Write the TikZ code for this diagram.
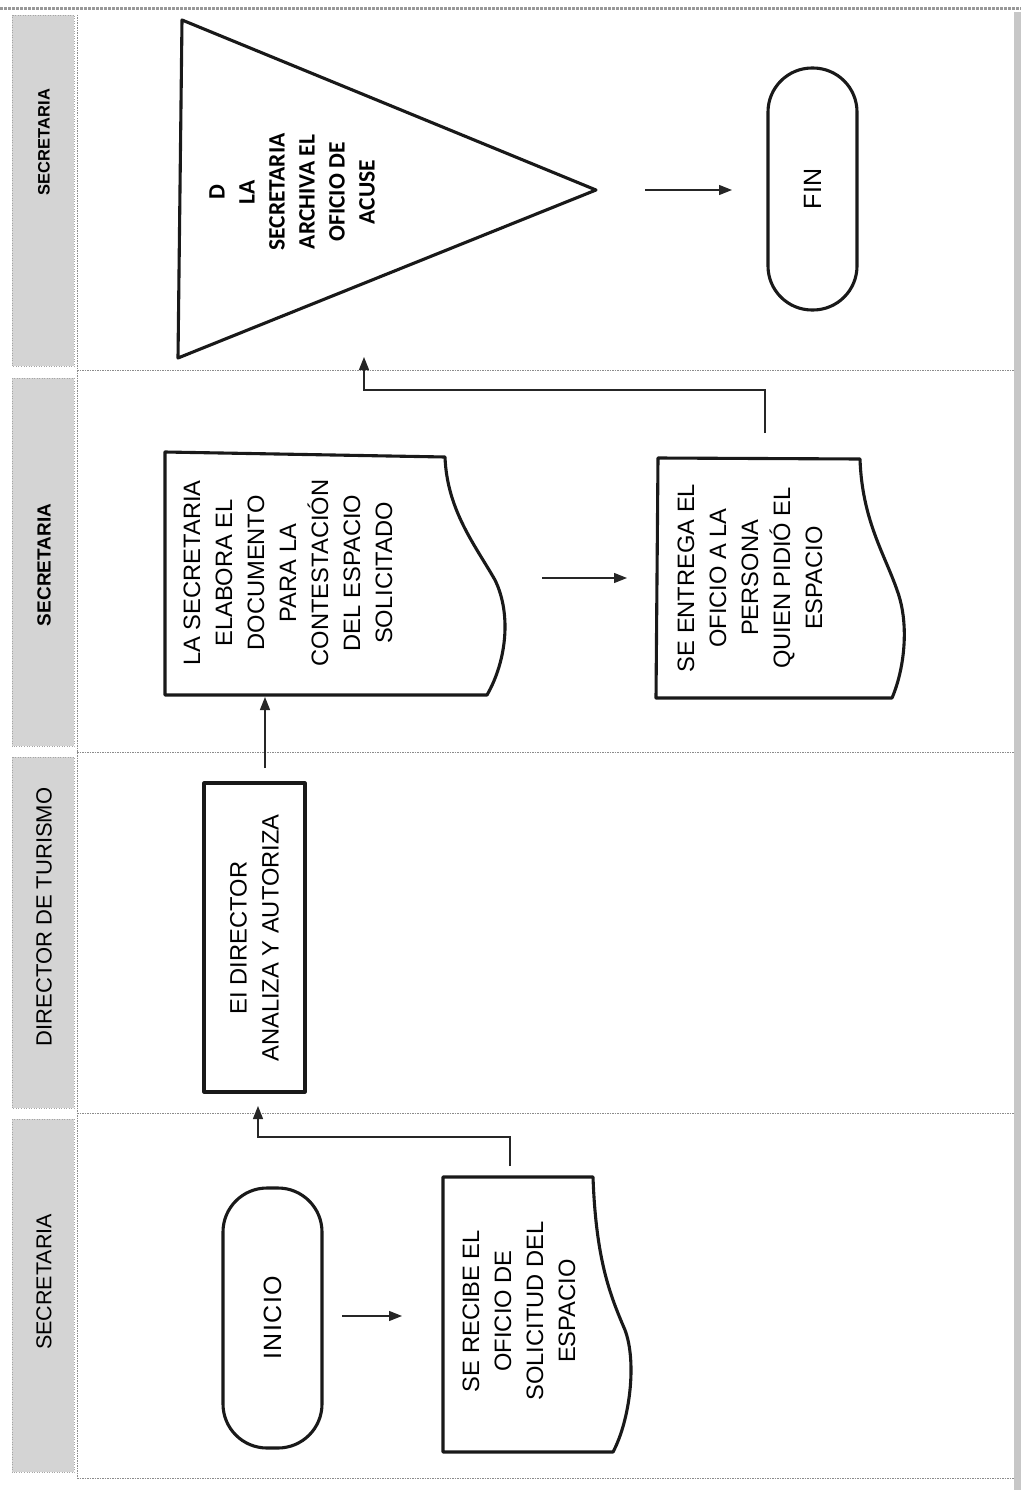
\documentclass[tikz,border=0pt]{standalone}
\usepackage{fontspec}
\setmainfont{Liberation Sans}
\newfontfamily\calibfont{Carlito}
\usetikzlibrary{arrows.meta}
\begin{document}
\begin{tikzpicture}[x=1pt,y=-1pt,
  shp/.style={draw=black!90,line width=3.1pt,line join=round},
  arr/.style={draw=black!85,line width=1.3pt,-{Triangle[length=13pt,width=10pt]}},
  lane/.style={draw=black!45,line width=0.8pt,dash pattern=on 1.5pt off 1pt},
  hdr/.style={fill=black!17,draw=black!35,line width=0.5pt,dotted},
  txt/.style={rotate=90,align=center,inner sep=0pt,font=\fontsize{23.7}{32}\selectfont},
  tri/.style={rotate=90,align=center,inner sep=0pt,font=\calibfont\bfseries\fontsize{23.5}{30}\selectfont},
  hlab/.style={rotate=90,inner sep=0pt},
  term/.style={shp,rotate=90,rounded corners=44pt,inner sep=0pt,font=\fontsize{25}{28}\selectfont}
]
\useasboundingbox (0,0) rectangle (1021,1501);
\fill[white] (0,0) rectangle (1021,1501);

% frame and lanes
\draw[black!40,line width=3pt,dash pattern=on 3pt off 1pt] (0,9) -- (1021,9);
\fill[black!22] (1014,12) rectangle (1021,1490);
\draw[lane] (77,15) -- (77,1478);
\draw[lane] (77,370) -- (1014,370);
\draw[lane] (77,752) -- (1014,752);
\draw[lane] (77,1113) -- (1014,1113);
\draw[lane] (77,1478) -- (1014,1478);

% header cells
\path[hdr] (12,15) rectangle (74,366);
\path[hdr] (12,378) rectangle (74,746);
\path[hdr] (12,757) rectangle (74,1108);
\path[hdr] (12,1119) rectangle (74,1472);
\node[hlab,font=\bfseries\fontsize{16.5}{20}\selectfont] (h1) at (44,142) {SECRETARIA};
\node[hlab,font=\bfseries\fontsize{19}{22}\selectfont] (h2) at (44,565) {SECRETARIA};
\node[hlab,font=\fontsize{22}{26}\selectfont] (h3) at (44,917) {DIRECTOR DE TURISMO};
\node[hlab,font=\fontsize{21.5}{26}\selectfont] (h4) at (44,1282) {SECRETARIA};

% INICIO
\node[term,minimum width=260pt,minimum height=99pt] (inicio) at (272.5,1318) {\addfontfeatures{LetterSpace=6}INICIO};

% document: SE RECIBE
\draw[shp] (443,1177) -- (593,1177) .. controls (596,1260) and (610,1295) .. (625,1330)
  .. controls (637,1362) and (630,1420) .. (613,1452) -- (443,1452) -- cycle;
\node[txt] (recibe) at (519,1311) {SE RECIBE EL\\OFICIO DE\\SOLICITUD DEL\\ESPACIO};

% rectangle: director
\node[shp,rotate=90,minimum width=309pt,minimum height=101pt,inner sep=0pt] (director) at (254.5,937.5) {};
\node[txt] (dirtxt) at (254.5,938) {EI DIRECTOR\\ANALIZA Y AUTORIZA};

% document: elabora
\draw[shp] (165,452) -- (445,457) .. controls (447,510) and (475,545) .. (495,580)
  .. controls (512,615) and (506,662) .. (487,695) -- (165,695) -- cycle;
\node[txt] (elabora) at (288,573) {LA SECRETARIA\\ELABORA EL\\DOCUMENTO\\PARA LA\\CONTESTACIÓN\\DEL ESPACIO\\SOLICITADO};

% document: entrega
\draw[shp] (658,458) -- (860,459) .. controls (862,520) and (885,555) .. (897,590)
  .. controls (910,625) and (904,670) .. (892,698) -- (656,698) -- cycle;
\node[txt] (entrega) at (750,578) {SE ENTREGA EL\\OFICIO A LA\\PERSONA\\QUIEN PIDIÓ EL\\ESPACIO};

% triangle
\draw[shp] (182,20) -- (596,190) -- (178,358) -- cycle;
\node[tri] (archiva) at (292,192) {D\\LA\\SECRETARIA\\ARCHIVA EL\\OFICIO DE\\ACUSE};

% FIN
\node[term,minimum width=242pt,minimum height=89pt] (fin) at (812.5,189) {FIN};

% connector coordinates
\coordinate (a1s) at (342,1316);
\coordinate (a1e) at (402,1316);
\coordinate (a2s) at (510,1166);
\coordinate (a2m) at (510,1137);
\coordinate (a2n) at (258,1137);
\coordinate (a2e) at (258,1106);
\coordinate (a3s) at (265,768);
\coordinate (a3e) at (265,697);
\coordinate (a4s) at (542,578);
\coordinate (a4e) at (627,578);
\coordinate (a5s) at (765,433);
\coordinate (a5m) at (765,390);
\coordinate (a5n) at (364,390);
\coordinate (a5e) at (364,357);
\coordinate (a6s) at (645,190);
\coordinate (a6e) at (732,190);

\draw[arr] (a1s) -- (a1e);
\draw[arr] (a2s) -- (a2m) -- (a2n) -- (a2e);
\draw[arr] (a3s) -- (a3e);
\draw[arr] (a4s) -- (a4e);
\draw[arr] (a5s) -- (a5m) -- (a5n) -- (a5e);
\draw[arr] (a6s) -- (a6e);
\end{tikzpicture}
\end{document}
